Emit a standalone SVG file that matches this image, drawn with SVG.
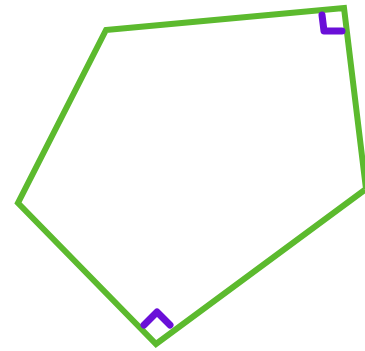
<svg xmlns="http://www.w3.org/2000/svg" width="365" height="351" viewBox="0 0 365 351">
<style>
.edge{fill:none;stroke:#5cba2e;stroke-width:6;stroke-linejoin:miter}
.mark{fill:none;stroke:#6a0fd8;stroke-width:7;stroke-linecap:round;stroke-linejoin:round}
</style>
<rect width="365" height="351" fill="#fff"/>
<g id="pentagon">
<polygon class="edge" points="106,30 344,8 366,189 156,344 18,203"/>
</g>
<g id="right-angle-top">
<polyline class="mark" points="322,15 324,31 342,31"/>
</g>
<g id="right-angle-bottom">
<polyline class="mark" points="144,325 157,312 170,325"/>
</g>
</svg>
